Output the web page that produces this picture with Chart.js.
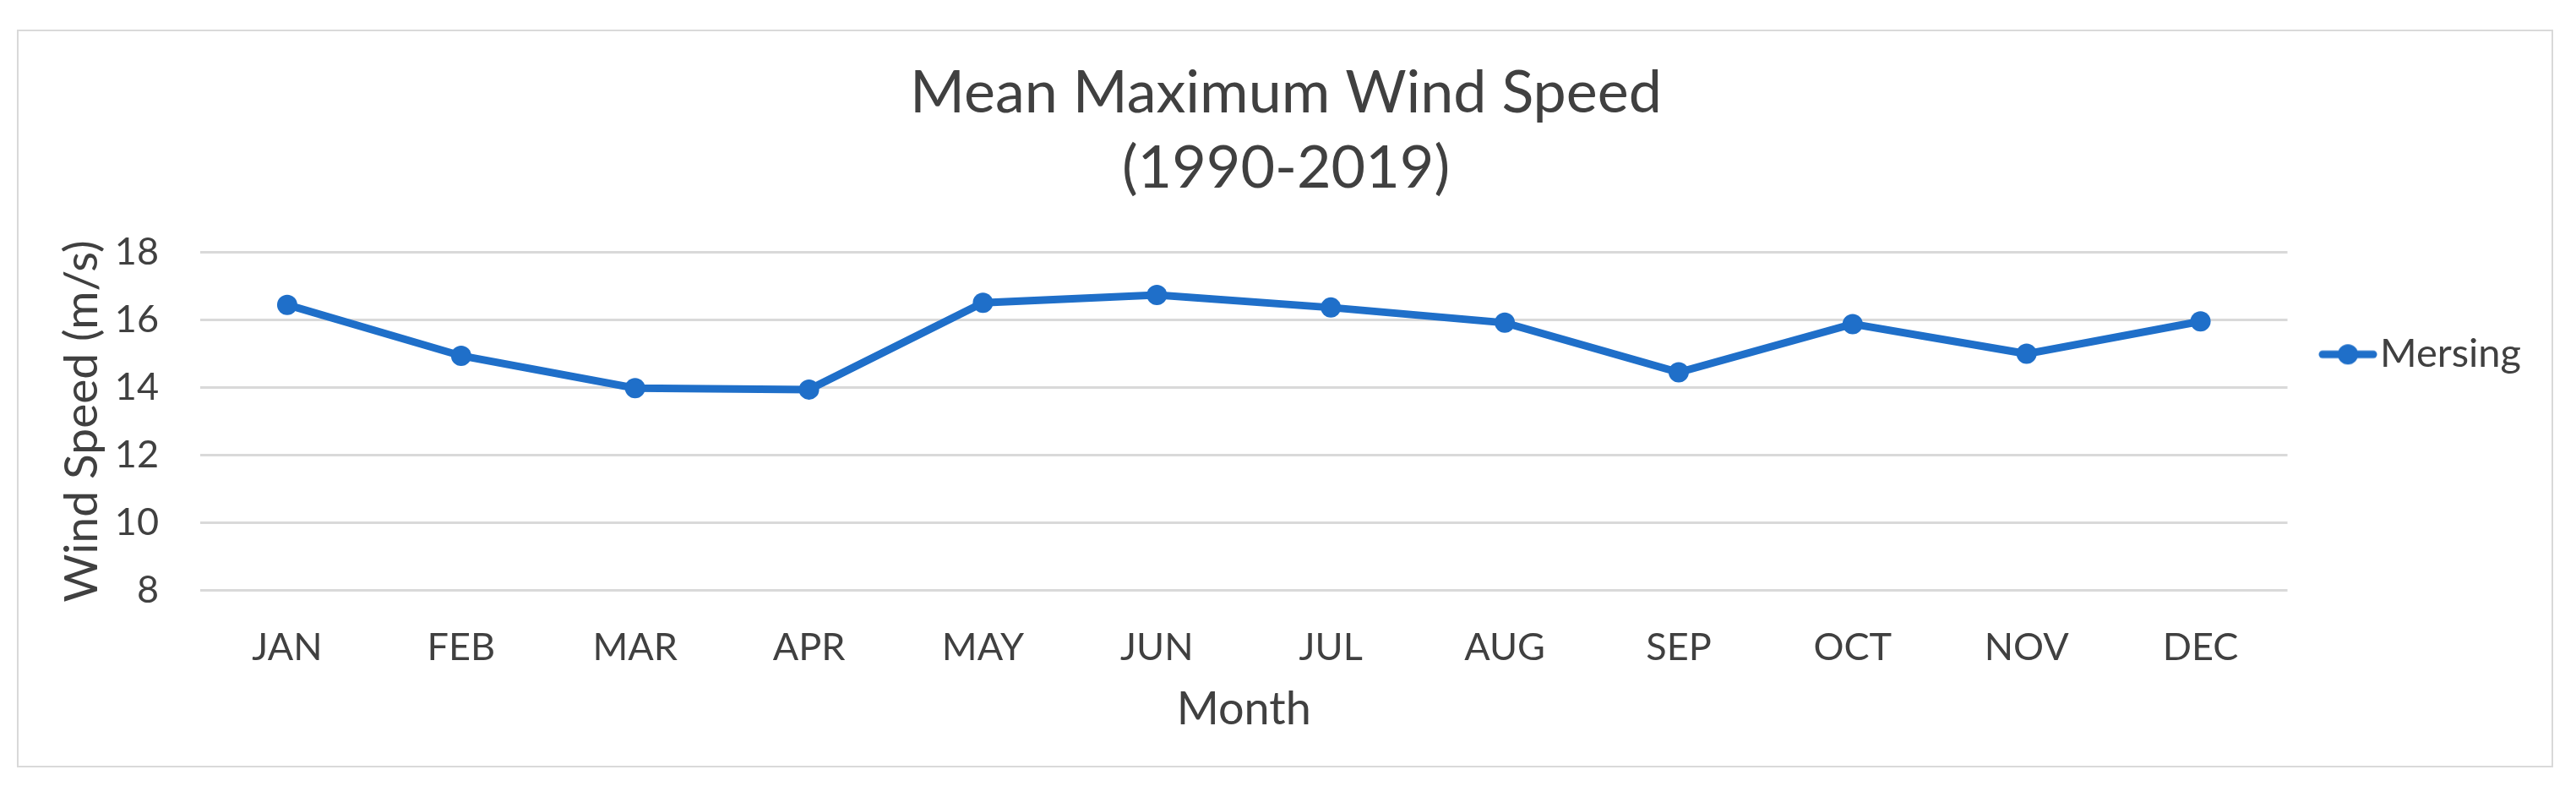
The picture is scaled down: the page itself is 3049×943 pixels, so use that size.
<!DOCTYPE html>
<html>
<head>
<meta charset="utf-8">
<script src="https://cdn.jsdelivr.net/npm/chart.js@4.4.0/dist/chart.umd.min.js"></script>
<style>
  html,body{margin:0;padding:0;background:#ffffff;}
  #frame{position:absolute;left:20px;top:35px;width:2998px;height:869px;border:2px solid #d9d9d9;box-sizing:content-box;}
  #wrap{position:absolute;left:0;top:0;width:3049px;height:943px;}
</style>
</head>
<body>
<div id="frame"></div>
<div id="wrap"><canvas id="windChart"></canvas></div>
<script>
// Mean maximum wind speed, Mersing station (m/s)
const months    = ['JAN','FEB','MAR','APR','MAY','JUN','JUL','AUG','SEP','OCT','NOV','DEC'];
const mersing   = [16.45, 14.94, 13.98, 13.94, 16.51, 16.74, 16.37, 15.92, 14.45, 15.88, 15.00, 15.96];
const yTicks    = [8, 10, 12, 14, 16, 18];
const titleText = ['Mean Maximum Wind Speed', '(1990-2019)'];

const BLUE  = '#1f6fc9';
const TEXT  = '#404040';
const GRID  = '#d9d9d9';
const FONT  = 'Lato, Carlito, "Noto Sans", sans-serif';

// legend swatch: line with a dot in the middle (Excel style)
function legendSwatch(){
  const c = document.createElement('canvas');
  c.width = 70; c.height = 26;
  const g = c.getContext('2d');
  g.strokeStyle = BLUE; g.lineWidth = 9; g.lineCap = 'round';
  g.beginPath(); g.moveTo(5, 13); g.lineTo(65, 13); g.stroke();
  g.fillStyle = BLUE;
  g.beginPath(); g.arc(35, 13, 12, 0, Math.PI*2); g.fill();
  return c;
}

new Chart(document.getElementById('windChart'), {
  type: 'line',
  data: {
    labels: months,
    datasets: [{
      label: 'Mersing',
      data: mersing,
      borderColor: BLUE,
      backgroundColor: BLUE,
      borderWidth: 9,
      pointRadius: 12,
      pointHoverRadius: 12,
      pointBackgroundColor: BLUE,
      pointBorderWidth: 0,
      tension: 0
    }]
  },
  options: {
    responsive: true,
    maintainAspectRatio: false,
    animation: false,
    layout: { padding: { top: 0, left: 50, bottom: 59, right: 55 } },
    plugins: {
      title: {
        display: true,
        text: titleText,
        color: TEXT,
        font: { family: FONT, size: 70, weight: 'normal', lineHeight: 1.27 },
        padding: { top: 66, bottom: 55 }
      },
      legend: {
        position: 'right',
        align: 'start',
        fullSize: false,
        title: { display: true, text: '', font: { size: 10, lineHeight: 1.2 }, padding: { top: 0, bottom: 28 } },
        labels: {
          usePointStyle: true,
          pointStyle: legendSwatch(),
          boxWidth: 29,
          boxHeight: 26,
          padding: 57,
          color: TEXT,
          font: { family: FONT, size: 47 }
        }
      },
      tooltip: { enabled: false }
    },
    scales: {
      x: {
        offset: true,
        grid: { display: false, drawTicks: false },
        border: { display: false },
        ticks: { color: TEXT, padding: 41, font: { family: FONT, size: 45 } },
        title: { display: true, text: 'Month', color: TEXT, font: { family: FONT, size: 54 }, padding: { top: 0, bottom: 12 } },
        afterFit: s => { s.height = 186; }
      },
      y: {
        min: yTicks[0],
        max: yTicks[yTicks.length - 1],
        afterBuildTicks: s => { s.ticks = yTicks.map(v => ({ value: v })); },
        grid: { color: GRID, lineWidth: 3, drawTicks: false },
        border: { display: false },
        ticks: { color: TEXT, padding: 49, font: { family: FONT, size: 45 } },
        title: { display: true, text: 'Wind Speed (m/s)', color: TEXT, font: { family: FONT, size: 55 }, padding: { top: 14, bottom: 0 } },
        afterFit: s => { s.width = 187; }
      }
    }
  }
});
</script>
</body>
</html>
